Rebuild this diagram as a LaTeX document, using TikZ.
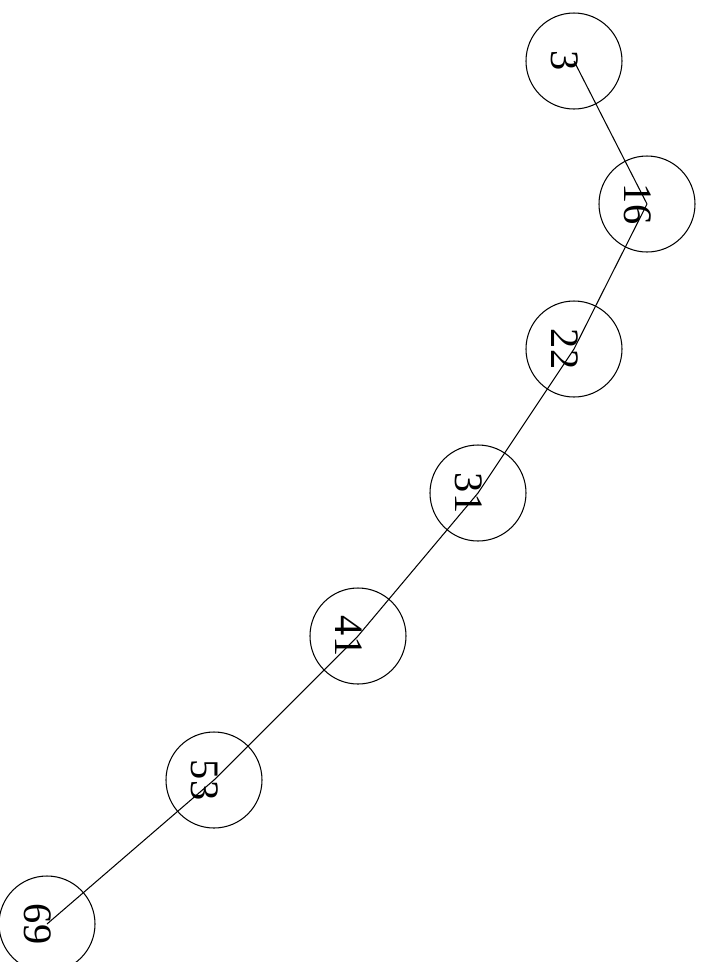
\documentclass[tikz,border=0pt]{standalone}
\usepackage{fontspec}
\setmainfont{Liberation Serif}
\begin{document}
\begin{tikzpicture}[line width=0.6pt,
    vertex/.style={draw=black,circle,minimum size=1.92cm,inner sep=0pt,
        rotate=-90,font=\fontsize{23}{27}\selectfont,
        text height=0.9cm,text depth=0pt}]
    \useasboundingbox (0,0) rectangle (14.04,-19.24);
    \node[vertex] (n3) at (11.48,-1.22) {3};
    \node[vertex] (n16) at (12.94,-4.08) {16};
    \node[vertex] (n22) at (11.48,-6.98) {22};
    \node[vertex] (n31) at (9.56,-9.86) {31};
    \node[vertex] (n41) at (7.16,-12.72) {41};
    \node[vertex] (n53) at (4.28,-15.60) {53};
    \node[vertex] (n69) at (0.94,-18.48) {69};
    \draw (n3.center) -- (n16.center);
    \draw (n16.center) -- (n22.center);
    \draw (n22.center) -- (n31.center);
    \draw (n31.center) -- (n41.center);
    \draw (n41.center) -- (n53.center);
    \draw (n53.center) -- (n69.center);
\end{tikzpicture}
\end{document}
